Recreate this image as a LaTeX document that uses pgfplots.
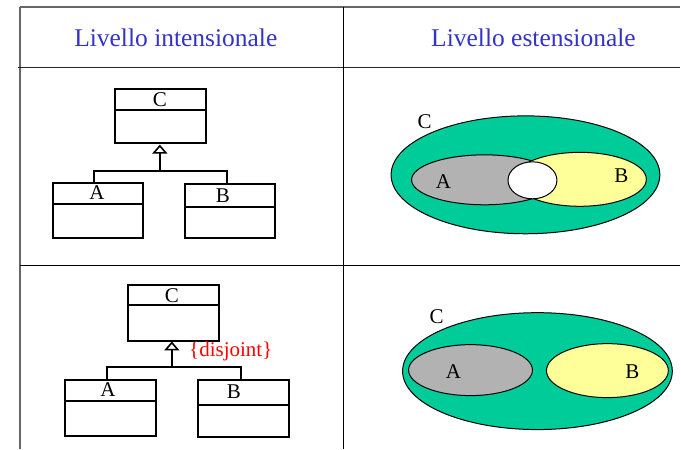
\documentclass[border=0pt]{standalone}
\usepackage{fontspec}
\setmainfont{Liberation Serif}
\usepackage{pgfplots}
\pgfplotsset{compat=1.18}
\definecolor{ttl}{RGB}{51,51,204}
\definecolor{cgreen}{RGB}{0,204,153}
\definecolor{agray}{RGB}{178,178,178}
\definecolor{byel}{RGB}{255,255,153}
\begin{document}
\begin{tikzpicture}
\begin{axis}[
  scale only axis, width=681pt, height=449pt,
  xmin=0, xmax=681, ymin=0, ymax=449, y dir=reverse,
  hide axis, clip=false]
% background
\addplot[fill=white, draw=none] coordinates {(0,0)(681,0)(681,449)(0,449)} -- cycle;
% table lines
\addplot[black!60, line width=1.4pt] coordinates {(20,7)(681,7)};
\addplot[black!60, line width=1.4pt] coordinates {(20,7)(20,449)};
\addplot[black!85, line width=1.1pt] coordinates {(18,68)(681,68)};
\addplot[black, line width=1.1pt] coordinates {(344,7)(344,449)};
\addplot[black, line width=1.1pt] coordinates {(20,266)(681,266)};
% titles
\node[ttl, font=\fontsize{25.5}{30}\selectfont] at (axis cs:176,38) {Livello intensionale};
\node[ttl, font=\fontsize{25.5}{30}\selectfont] at (axis cs:534,38) {Livello estensionale};
% ---------- UML 1 ----------
\addplot[black, line width=2pt] coordinates {(115,89)(206,89)(206,143)(115,143)} -- cycle;
\addplot[black, line width=2pt] coordinates {(115,110)(206,110)};
\addplot[black, line width=2pt] coordinates {(160,153)(160,171)};
\addplot[black, line width=2pt] coordinates {(94,183)(94,171)(227,171)(227,184)};
\addplot[black, fill=white, line width=1.6pt] coordinates {(154,153)(166,153)(160,146)} -- cycle;
\addplot[black, line width=2pt] coordinates {(53,183)(143,183)(143,238)(53,238)} -- cycle;
\addplot[black, line width=2pt] coordinates {(53,204)(143,204)};
\addplot[black, line width=2pt] coordinates {(185,184)(275,184)(275,238)(185,238)} -- cycle;
\addplot[black, line width=2pt] coordinates {(185,207)(275,207)};
\node[font=\fontsize{21}{25}\selectfont] at (axis cs:160,100) {C};
\node[font=\fontsize{21}{25}\selectfont] at (axis cs:97,193) {A};
\node[font=\fontsize{21}{25}\selectfont] at (axis cs:223,196) {B};
% ---------- UML 2 ----------
\addplot[black, line width=2pt] coordinates {(128,285)(219,285)(219,341)(128,341)} -- cycle;
\addplot[black, line width=2pt] coordinates {(128,305)(219,305)};
\addplot[black, line width=2pt] coordinates {(172,350)(172,367)};
\addplot[black, line width=2pt] coordinates {(107,380)(107,367)(241,367)(241,380)};
\addplot[black, fill=white, line width=1.6pt] coordinates {(166,350)(178,350)(172,343)} -- cycle;
\addplot[black, line width=2pt] coordinates {(65,380)(156,380)(156,436)(65,436)} -- cycle;
\addplot[black, line width=2pt] coordinates {(65,401)(156,401)};
\addplot[black, line width=2pt] coordinates {(198,380)(289,380)(289,437)(198,437)} -- cycle;
\addplot[black, line width=2pt] coordinates {(198,405)(289,405)};
\node[font=\fontsize{21}{25}\selectfont] at (axis cs:172,296) {C};
\node[font=\fontsize{21}{25}\selectfont] at (axis cs:108,390) {A};
\node[font=\fontsize{21}{25}\selectfont] at (axis cs:234,392) {B};
\node[red, font=\fontsize{21}{25}\selectfont] at (axis cs:231,352) {\{disjoint\}};
% ---------- Venn 1 ----------
\draw[black, line width=1pt, fill=cgreen] (axis cs:526,175) ellipse [x radius=134.5, y radius=59];
\draw[black, line width=1pt, fill=agray] (axis cs:485,180) ellipse [x radius=73, y radius=25];
\draw[black, line width=1pt, fill=byel] (axis cs:580.5,179.5) ellipse [x radius=66.5, y radius=27];
\draw[black, line width=1pt, fill=white] (axis cs:533,180.5) ellipse [x radius=24.5, y radius=18.5];
\node[font=\fontsize{21}{25}\selectfont] at (axis cs:425,122) {C};
\node[font=\fontsize{21}{25}\selectfont] at (axis cs:444,182) {A};
\node[font=\fontsize{21}{25}\selectfont] at (axis cs:622,176) {B};
% ---------- Venn 2 ----------
\draw[black, line width=1pt, fill=cgreen] (axis cs:538,371.5) ellipse [x radius=135, y radius=58.5];
\draw[black, line width=1pt, fill=agray] (axis cs:471,370.5) ellipse [x radius=62, y radius=25.5];
\draw[black, line width=1pt, fill=byel] (axis cs:608,371) ellipse [x radius=61, y radius=27];
\node[font=\fontsize{21}{25}\selectfont] at (axis cs:437,317) {C};
\node[font=\fontsize{21}{25}\selectfont] at (axis cs:454,372) {A};
\node[font=\fontsize{21}{25}\selectfont] at (axis cs:633,372) {B};
\end{axis}
\end{tikzpicture}
\end{document}
